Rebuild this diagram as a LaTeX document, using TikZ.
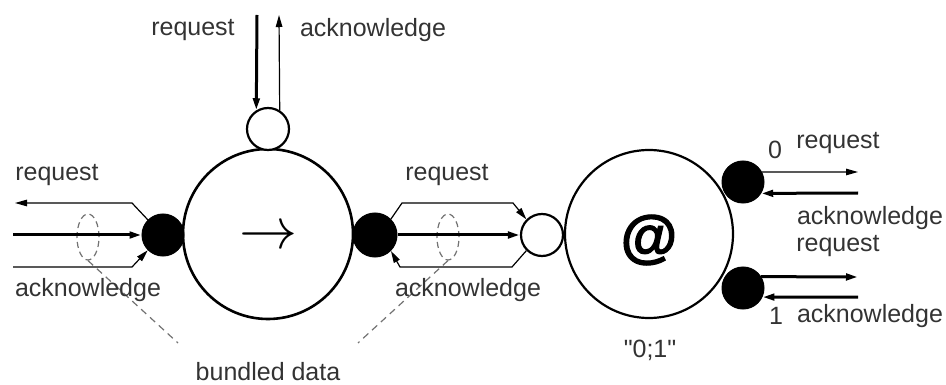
\documentclass[tikz,border=0pt]{standalone}
\usepackage{fontspec}
\setmainfont{Liberation Sans}
\newfontfamily\heavyat[FakeBold=2]{Liberation Sans Bold}
\usetikzlibrary{arrows.meta,shapes.geometric}

\begin{document}
\begin{tikzpicture}[x=1pt,y=-1pt,
  lbl/.style={font=\fontsize{25}{30}\selectfont, text=black!80, inner sep=0pt},
  ring/.style={circle, draw, line width=2.6pt, fill=white, inner sep=0pt},
  dot/.style={circle, draw, fill=black, line width=1pt, inner sep=0pt, minimum size=42pt},
  port/.style={circle, draw, fill=white, line width=2.2pt, inner sep=0pt, minimum size=42pt},
  thinw/.style={line width=1.2pt},
  thickw/.style={line width=3pt},
  tip/.style={-{Triangle[length=12pt,width=6.5pt]}},
  bundle/.style={ellipse, draw=black!55, dash pattern=on 6pt off 4pt, line width=1.2pt,
                 minimum width=22pt, minimum height=46pt, inner sep=0pt},
  dashline/.style={draw=black!55, dash pattern=on 7pt off 5pt, line width=1.2pt},
]
\useasboundingbox (0,0) rectangle (946,385);

% bundles of data wires
\node[bundle] (B1) at (88,237) {};
\node[bundle] (B2) at (448,237) {};

% stages
\node[ring, minimum size=170pt] (C1) at (268,234) {};
\node[port] (T1) at (268,129) {};
\node[dot] (L1) at (163,235) {};
\node[dot, minimum size=44pt] (R1) at (375,235) {};
\node[port] (O2) at (542,235) {};
\node[ring, line width=2.2pt, minimum size=168pt] (C2) at (649,234) {};
\node[dot] (D0) at (743,182) {};
\node[dot] (D1) at (743,288) {};

% symbols inside the stages
\node[inner sep=0pt, scale=5.8] (S1) at (268,238) {$\rightarrow$};
\node[inner sep=0pt, font=\heavyat\fontsize{58}{60}\selectfont] (S2) at (649,240) {@};

% free ends of the wires
\coordinate (tq) at (257,15);
\coordinate (ta) at (279,15);
\coordinate (lq1) at (132,203);
\coordinate (lq2) at (15,203);
\coordinate (ld) at (13,235);
\coordinate (la1) at (13,267);
\coordinate (la2) at (132,267);
\coordinate (mq1) at (402,203);
\coordinate (mq2) at (513,203);
\coordinate (ma1) at (512,267);
\coordinate (ma2) at (400,267);
\coordinate (r0q) at (858,172);
\coordinate (r0a) at (858,193);
\coordinate (r1q) at (858,277);
\coordinate (r1a) at (858,297);
\coordinate (e1) at (178,343);
\coordinate (e2) at (358,343);

% top handshake
\draw[thickw,tip] (tq) -- (T1.122);
\draw[thinw,tip] (T1.58) -- (ta);

% left channel
\draw[thinw,tip] (L1.135) -- (lq1) -- (lq2);
\draw[thickw,tip] (ld) -- (L1.west);
\draw[thinw,tip] (la1) -- (la2) -- (L1.225);

% middle channel
\draw[thinw,tip] (R1.45) -- (mq1) -- (mq2) -- (O2.135);
\draw[thickw,tip] (R1.east) -- (O2.west);
\draw[thinw,tip] (O2.225) -- (ma1) -- (ma2) -- (R1.-45);

% output channels
\draw[thinw,tip] (D0.28) -- (r0q);
\draw[thickw,tip] (r0a) -- (D0.-32);
\draw[thickw,tip] (D1.32) -- (r1q);
\draw[thickw,tip] (r1a) -- (D1.-25);

% bundled data pointers
\draw[dashline] (B1.south) -- (e1);
\draw[dashline] (B2.south) -- (e2);

% labels
\node[lbl] (tlq) at (193,30) {request};
\node[lbl] (tla) at (373,30) {acknowledge};
\node[lbl] (llq) at (57,175) {request};
\node[lbl] (lla) at (88,290) {acknowledge};
\node[lbl] (mlq) at (447,175) {request};
\node[lbl] (mla) at (468,290) {acknowledge};
\node[lbl] (n0) at (775,150) {0};
\node[lbl] (r0lq) at (838,143) {request};
\node[lbl] (r0la) at (870,218) {acknowledge};
\node[lbl] (r1lq) at (838,246) {request};
\node[lbl] (n1) at (776,316) {1};
\node[lbl] (r1la) at (870,316) {acknowledge};
\node[lbl] (sel) at (650,350) {\textquotedbl 0;1\textquotedbl};
\node[lbl] (BD) at (268,372) {bundled data};
\end{tikzpicture}
\end{document}
